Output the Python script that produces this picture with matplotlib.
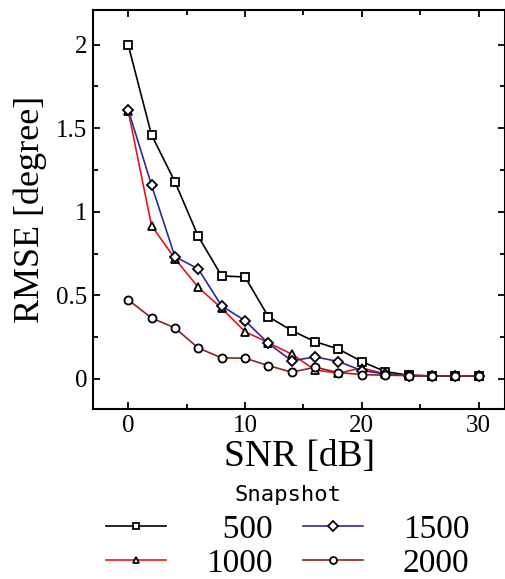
import numpy as np
import matplotlib.pyplot as plt
from matplotlib.ticker import MultipleLocator

snr = [0, 2, 4, 6, 8, 10, 12, 14, 16, 18, 20, 22, 24, 26, 28, 30]

rmse_500 = [2.00, 1.46, 1.18, 0.853, 0.616, 0.61, 0.373, 0.289, 0.223, 0.179,
            0.104, 0.044, 0.022, 0.018, 0.018, 0.018]
rmse_1000 = [1.605, 0.917, 0.72, 0.548, 0.423, 0.283, 0.217, 0.148, 0.054, 0.034,
             0.066, 0.03, 0.02, 0.018, 0.018, 0.018]
rmse_1500 = [1.611, 1.16, 0.732, 0.658, 0.437, 0.349, 0.213, 0.108, 0.132, 0.104,
             0.05, 0.03, 0.02, 0.018, 0.018, 0.018]
rmse_2000 = [0.473, 0.365, 0.305, 0.185, 0.126, 0.124, 0.08, 0.04, 0.07, 0.038,
             0.026, 0.022, 0.02, 0.018, 0.018, 0.018]

series = [
    ('500', rmse_500, 'black', 's'),
    ('1000', rmse_1000, '#e8141c', '^'),
    ('1500', rmse_1500, '#2a2a9c', 'D'),
    ('2000', rmse_2000, '#8b2424', 'o'),
]

serif = 'Liberation Serif'

fig = plt.figure(figsize=(5.06, 5.79), dpi=100)
ax = fig.add_axes([0.184, 0.2936, 0.815, 0.6891])

for label, vals, color, marker in series:
    ms = 5.0 if marker == 'D' else 5.8
    ax.plot(snr, vals, color=color, lw=1.2, marker=marker, ms=ms,
            mfc='white', mec='black', mew=1.3,
            label=label.rjust(4, '\u2007'))

ax.set_xlim(-3, 32.3)
ax.set_ylim(-0.18, 2.207)
ax.xaxis.set_major_locator(MultipleLocator(10))
ax.xaxis.set_minor_locator(MultipleLocator(5))
ax.yaxis.set_major_locator(MultipleLocator(0.5))
ax.yaxis.set_minor_locator(MultipleLocator(0.25))
ax.set_yticks([0, 0.5, 1, 1.5, 2])
ax.set_yticklabels(['0', '0.5', '1', '1.5', '2'])

ax.tick_params(which='both', direction='in', top=True, right=True, width=1.3,
               labelsize=18)
ax.tick_params(which='major', length=5, pad=4)
ax.tick_params(which='minor', length=3.8)
for lab in ax.get_xticklabels() + ax.get_yticklabels():
    lab.set_fontfamily(serif)
for s in ax.spines.values():
    s.set_linewidth(1.5)

ax.set_xlabel('SNR [dB]', fontsize=27, family=serif, labelpad=2)
ax.set_ylabel('RMSE [degree]', fontsize=26, family=serif, labelpad=7)

leg = fig.legend(loc='lower center', bbox_to_anchor=(0.569, -0.034), ncol=2,
                 frameon=False, numpoints=1, handlelength=1.8,
                 handletextpad=1.2, columnspacing=0.9, labelspacing=0.1,
                 borderpad=0.1, prop={'family': serif, 'size': 24},
                 title='Snapshot',
                 title_fontproperties={'family': 'DejaVu Sans Mono', 'size': 16})
leg._legend_box.sep = 7
for h in leg.legend_handles:
    h.set_markersize(5)

fig.savefig('out.png', dpi=100)
